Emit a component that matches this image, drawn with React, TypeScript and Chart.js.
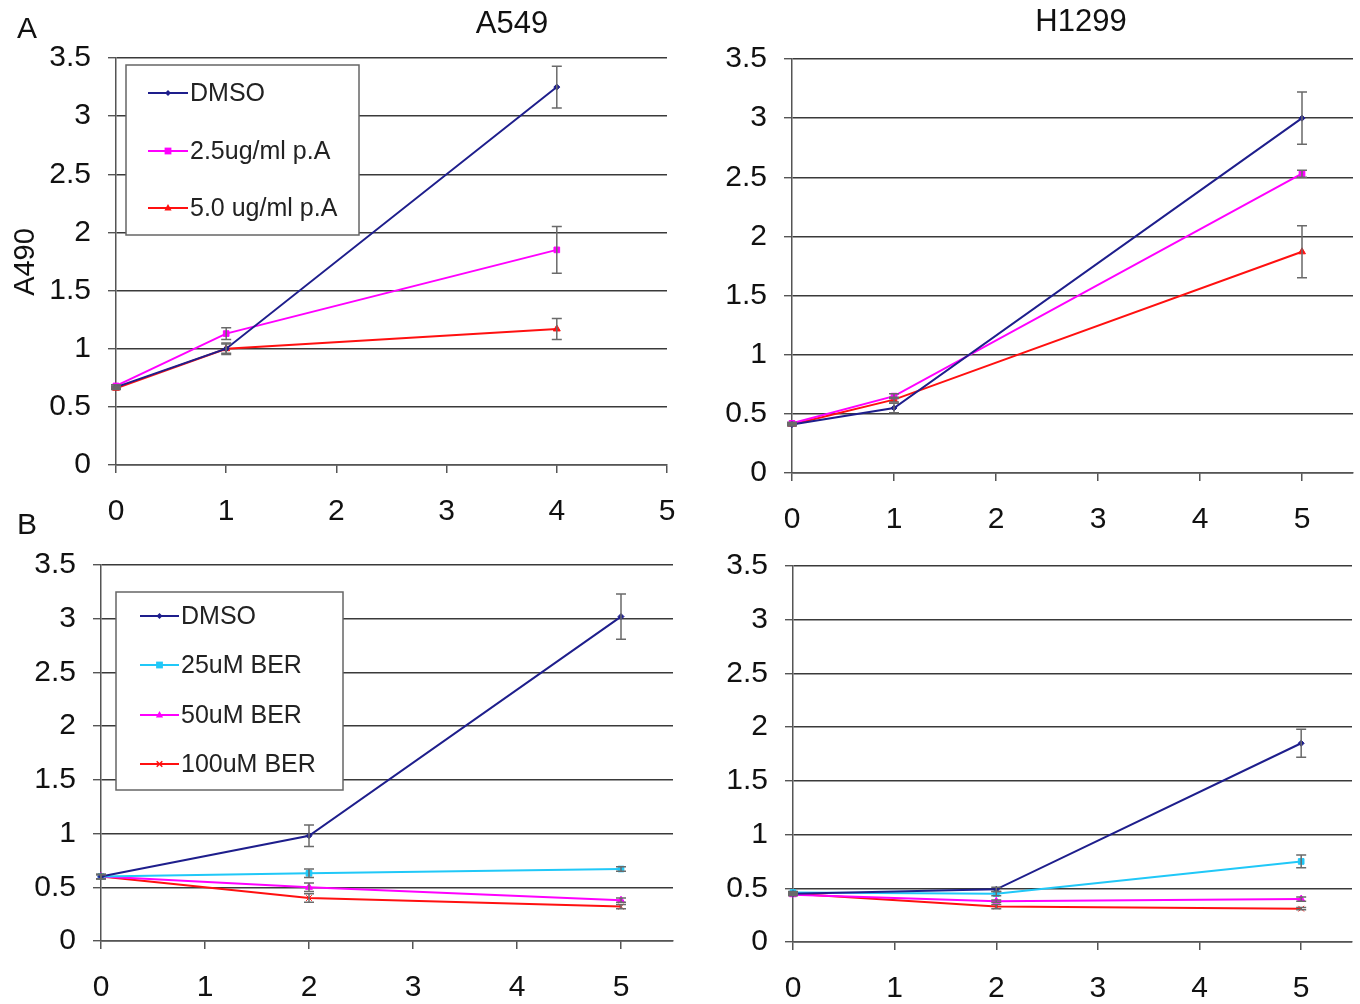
import React, { useEffect, useRef } from 'react';
import { Chart, registerables } from 'chart.js';
Chart.register(...registerables);

const FONT = '"Liberation Sans", Arial, Helvetica, sans-serif';

// ---- Panel A, A549 ----
const daysA549A = [0, 1, 4];
const dmsoA549A = [0.67, 1.0, 3.25];
const dmsoA549AErr = [0.01, 0.05, 0.18];
const pa25A549A = [0.68, 1.13, 1.85];
const pa25A549AErr = [0.01, 0.05, 0.2];
const pa50A549A = [0.66, 1.0, 1.17];
const pa50A549AErr = [0.01, 0.04, 0.09];

// ---- Panel A, H1299 ----
const daysH1299A = [0, 1, 5];
const dmsoH1299A = [0.41, 0.55, 3.0];
const dmsoH1299AErr = [0.01, 0.04, 0.22];
const pa25H1299A = [0.42, 0.65, 2.53];
const pa25H1299AErr = [0.01, 0.02, 0.03];
const pa50H1299A = [0.41, 0.62, 1.87];
const pa50H1299AErr = [0.01, 0.02, 0.22];

// ---- Panel B, A549 ----
const daysA549B = [0, 2, 5];
const dmsoA549B = [0.6, 0.98, 3.02];
const dmsoA549BErr = [0.02, 0.1, 0.21];
const ber25A549B = [0.6, 0.63, 0.67];
const ber25A549BErr = [0.02, 0.04, 0.02];
const ber50A549B = [0.6, 0.5, 0.38];
const ber50A549BErr = [0.02, 0.04, 0.02];
const ber100A549B = [0.6, 0.4, 0.32];
const ber100A549BErr = [0.02, 0.04, 0.02];

// ---- Panel B, H1299 ----
const daysH1299B = [0, 2, 5];
const dmsoH1299B = [0.45, 0.49, 1.85];
const dmsoH1299BErr = [0.01, 0.02, 0.13];
const ber25H1299B = [0.46, 0.45, 0.75];
const ber25H1299BErr = [0.01, 0.02, 0.06];
const ber50H1299B = [0.44, 0.38, 0.4];
const ber50H1299BErr = [0.01, 0.01, 0.02];
const ber100H1299B = [0.45, 0.33, 0.31];
const ber100H1299BErr = [0.01, 0.02, 0.01];

const yTicks = [0, 0.5, 1, 1.5, 2, 2.5, 3, 3.5];
const xTicks = [0, 1, 2, 3, 4, 5];
const labelsA = ['DMSO', '2.5ug/ml p.A', '5.0 ug/ml p.A'];
const labelsB = ['DMSO', '25uM BER', '50uM BER', '100uM BER'];

const NAVY = '#1E1E8C';
const MAGENTA = '#FF00FF';
const RED = '#FF1010';
const CYAN = '#20C8F8';

const AXIS = '#555555';

type Series = { label: string; days: number[]; vals: number[]; err: number[]; color: string; style: string; radius: number };

const styleA = [
  { color: NAVY, style: 'rectRot', radius: 3 },
  { color: MAGENTA, style: 'rect', radius: 4 },
  { color: RED, style: 'triangle', radius: 4 },
];
const styleB = [
  { color: NAVY, style: 'rectRot', radius: 3 },
  { color: CYAN, style: 'rect', radius: 4 },
  { color: MAGENTA, style: 'triangle', radius: 4 },
  { color: RED, style: 'crossRot', radius: 4 },
];

function mk(labels: string[], styles: any[], days: number[], vals: number[][], errs: number[][]): Series[] {
  return labels.map((l, i) => ({ label: l, days, vals: vals[i], err: errs[i], ...styles[i] }));
}

type Legend = { x: number; y: number; w: number; h: number; rows: number[]; lx0: number; lx1: number; tx: number };
type Panel = { left: number; top: number; right: number; bottom: number; xMax: number; series: Series[]; legend?: Legend };

const panels: Panel[] = [
  {
    left: 116, top: 58, right: 667, bottom: 465, xMax: 5,
    series: mk(labelsA, styleA, daysA549A, [dmsoA549A, pa25A549A, pa50A549A], [dmsoA549AErr, pa25A549AErr, pa50A549AErr]),
    legend: { x: 126, y: 65, w: 233, h: 170, rows: [93, 151, 208], lx0: 148, lx1: 188, tx: 190 },
  },
  {
    left: 792, top: 59, right: 1353, bottom: 473, xMax: 5.5,
    series: mk(labelsA, styleA, daysH1299A, [dmsoH1299A, pa25H1299A, pa50H1299A], [dmsoH1299AErr, pa25H1299AErr, pa50H1299AErr]),
  },
  {
    left: 101, top: 565, right: 673, bottom: 941, xMax: 5.5,
    series: mk(labelsB, styleB, daysA549B, [dmsoA549B, ber25A549B, ber50A549B, ber100A549B], [dmsoA549BErr, ber25A549BErr, ber50A549BErr, ber100A549BErr]),
    legend: { x: 116, y: 592, w: 227, h: 198, rows: [616, 665, 715, 764], lx0: 140, lx1: 179, tx: 181 },
  },
  {
    left: 793, top: 566, right: 1352, bottom: 942, xMax: 5.5,
    series: mk(labelsB, styleB, daysH1299B, [dmsoH1299B, ber25H1299B, ber50H1299B, ber100H1299B], [dmsoH1299BErr, ber25H1299BErr, ber50H1299BErr, ber100H1299BErr]),
  },
];

const PAD_L = 100;
const PAD_T = 40;
const PAD_R = 40;
const PAD_B = 70;

function drawMarker(ctx: CanvasRenderingContext2D, style: string, r: number, x: number, y: number, color: string) {
  ctx.save();
  ctx.fillStyle = color;
  ctx.strokeStyle = color;
  ctx.lineWidth = 1.5;
  ctx.beginPath();
  if (style === 'rectRot') {
    ctx.moveTo(x, y - r); ctx.lineTo(x + r, y); ctx.lineTo(x, y + r); ctx.lineTo(x - r, y); ctx.closePath(); ctx.fill();
  } else if (style === 'rect') {
    ctx.rect(x - r * 0.85, y - r * 0.85, r * 1.7, r * 1.7); ctx.fill();
  } else if (style === 'triangle') {
    ctx.moveTo(x, y - r); ctx.lineTo(x + r * 0.9, y + r * 0.6); ctx.lineTo(x - r * 0.9, y + r * 0.6); ctx.closePath(); ctx.fill();
  } else {
    const d = r * 0.7;
    ctx.moveTo(x - d, y - d); ctx.lineTo(x + d, y + d); ctx.moveTo(x + d, y - d); ctx.lineTo(x - d, y + d); ctx.stroke();
  }
  ctx.restore();
}

const errorBarPlugin = {
  id: 'errorBars',
  afterDatasetsDraw(chart: any) {
    const ctx = chart.ctx;
    const ys = chart.scales.y;
    chart.data.datasets.forEach((ds: any, di: number) => {
      const meta = chart.getDatasetMeta(di);
      meta.data.forEach((pt: any, i: number) => {
        const e = ds.errors ? ds.errors[i] : 0;
        if (!e) return;
        const v = ds.data[i].y;
        const yt = ys.getPixelForValue(v + e);
        const yb = ys.getPixelForValue(v - e);
        ctx.save();
        ctx.strokeStyle = '#6A6A6A';
        ctx.lineWidth = 1.5;
        ctx.beginPath();
        ctx.moveTo(pt.x, yt);
        ctx.lineTo(pt.x, yb);
        ctx.moveTo(pt.x - 5, yt);
        ctx.lineTo(pt.x + 5, yt);
        ctx.moveTo(pt.x - 5, yb);
        ctx.lineTo(pt.x + 5, yb);
        ctx.stroke();
        ctx.restore();
      });
    });
  },
};

const boxLegendPlugin = {
  id: 'boxLegend',
  afterDraw(chart: any, _args: any, opts: any) {
    const lg = opts && opts.box;
    if (!lg) return;
    const ctx = chart.ctx;
    ctx.save();
    ctx.fillStyle = '#ffffff';
    ctx.fillRect(lg.x, lg.y, lg.w, lg.h);
    ctx.strokeStyle = '#666666';
    ctx.lineWidth = 1.5;
    ctx.strokeRect(lg.x, lg.y, lg.w, lg.h);
    chart.data.datasets.forEach((ds: any, i: number) => {
      const y = lg.rows[i];
      ctx.strokeStyle = ds.borderColor;
      ctx.lineWidth = 2;
      ctx.beginPath();
      ctx.moveTo(lg.lx0, y);
      ctx.lineTo(lg.lx1, y);
      ctx.stroke();
      drawMarker(ctx, ds.pointStyle, ds.pointRadius, (lg.lx0 + lg.lx1) / 2, y, ds.borderColor);
      ctx.fillStyle = '#222222';
      ctx.font = `25px ${FONT}`;
      ctx.textAlign = 'left';
      ctx.textBaseline = 'middle';
      ctx.fillText(ds.label, lg.tx, y + 1);
    });
    ctx.restore();
  },
};

function PanelChart({ p }: { p: Panel }) {
  const ref = useRef<HTMLCanvasElement>(null);
  const cl = p.left - PAD_L;
  const ct = p.top - PAD_T;
  const cw = p.right - p.left + PAD_L + PAD_R;
  const ch = p.bottom - p.top + PAD_T + PAD_B;
  useEffect(() => {
    if (!ref.current) return;
    const legendLocal = p.legend
      ? {
          x: p.legend.x - cl, y: p.legend.y - ct, w: p.legend.w, h: p.legend.h,
          rows: p.legend.rows.map((r) => r - ct), lx0: p.legend.lx0 - cl, lx1: p.legend.lx1 - cl, tx: p.legend.tx - cl,
        }
      : null;
    const chart = new Chart(ref.current, {
      type: 'scatter',
      data: {
        datasets: p.series.map((s) => ({
          label: s.label,
          data: s.days.map((d, i) => ({ x: d, y: s.vals[i] })),
          errors: s.err,
          showLine: true,
          borderColor: s.color,
          backgroundColor: s.color,
          borderWidth: 2,
          pointStyle: s.style,
          pointRadius: s.radius,
          pointBorderWidth: 1,
          clip: false,
        })) as any,
      },
      options: {
        responsive: false,
        animation: false,
        devicePixelRatio: 1,
        layout: { padding: { left: 0, top: PAD_T, right: PAD_R, bottom: 0 } },
        plugins: {
          legend: { display: false },
          tooltip: { enabled: false },
          boxLegend: { box: legendLocal },
        } as any,
        scales: {
          x: {
            type: 'linear',
            min: 0,
            max: p.xMax,
            afterFit: (s: any) => { s.height = PAD_B; },
            afterBuildTicks: (s: any) => { s.ticks = xTicks.map((v) => ({ value: v })); },
            ticks: { color: '#111', font: { family: FONT, size: 30 }, padding: 21, maxRotation: 0, autoSkip: false },
            grid: { drawOnChartArea: false, drawTicks: true, tickLength: 8, color: AXIS, lineWidth: 1.5 },
            border: { display: true, color: AXIS, width: 1.5 },
          },
          y: {
            type: 'linear',
            min: 0,
            max: 3.5,
            afterFit: (s: any) => { s.width = PAD_L; },
            afterBuildTicks: (s: any) => { s.ticks = yTicks.map((v) => ({ value: v })); },
            ticks: { color: '#111', font: { family: FONT, size: 30 }, padding: 17, autoSkip: false, callback: (v: any) => String(v) },
            grid: { drawOnChartArea: true, drawTicks: true, tickLength: 8, color: '#3A3A3A', lineWidth: 1.4, borderDash: [2, 2], tickBorderDash: [], tickColor: AXIS },
            border: { display: true, color: AXIS, width: 1.5 },
          },
        },
      } as any,
      plugins: [errorBarPlugin, boxLegendPlugin],
    });
    // correct plot-area position so it lands exactly where intended
    for (let k = 0; k < 2; k++) {
      const ca = chart.chartArea;
      const pad: any = (chart.options as any).layout.padding;
      const wantTop = PAD_T;
      const wantRight = cw - PAD_R;
      const wantBottom = ch - PAD_B;
      const dTop = ca.top - wantTop;
      const dRight = wantRight - ca.right;
      const dBottom = ca.bottom - wantBottom;
      if (Math.abs(dTop) < 0.5 && Math.abs(dRight) < 0.5 && Math.abs(dBottom) < 0.5) break;
      (chart.options as any).layout.padding = {
        left: pad.left,
        top: pad.top - dTop,
        right: pad.right - dRight,
        bottom: pad.bottom + dBottom,
      };
      chart.update();
    }
    return () => chart.destroy();
  }, []);
  return (
    <canvas
      ref={ref}
      width={cw}
      height={ch}
      style={{ position: 'absolute', left: cl, top: ct, width: cw, height: ch }}
    />
  );
}

const txt = (s: string, x: number, y: number, size: number, extra: any = {}) => (
  <div
    style={{
      position: 'absolute', left: x, top: y, transform: 'translate(-50%, -50%)' + (extra.rot ? ' rotate(-90deg)' : ''),
      fontFamily: FONT, fontSize: size, lineHeight: 1, color: '#111', whiteSpace: 'nowrap',
    }}
  >
    {s}
  </div>
);

export default function App() {
  return (
    <div style={{ position: 'absolute', left: 0, top: 0, width: 1360, height: 1004, background: '#fff', overflow: 'hidden' }}>
      {panels.map((p, i) => <PanelChart key={i} p={p} />)}
      {txt('A', 27, 28, 30)}
      {txt('B', 27, 524, 30)}
      {txt('A549', 512, 22, 31)}
      {txt('H1299', 1081, 20, 31)}
      {txt('A490', 24, 262, 29, { rot: true })}
    </div>
  );
}
